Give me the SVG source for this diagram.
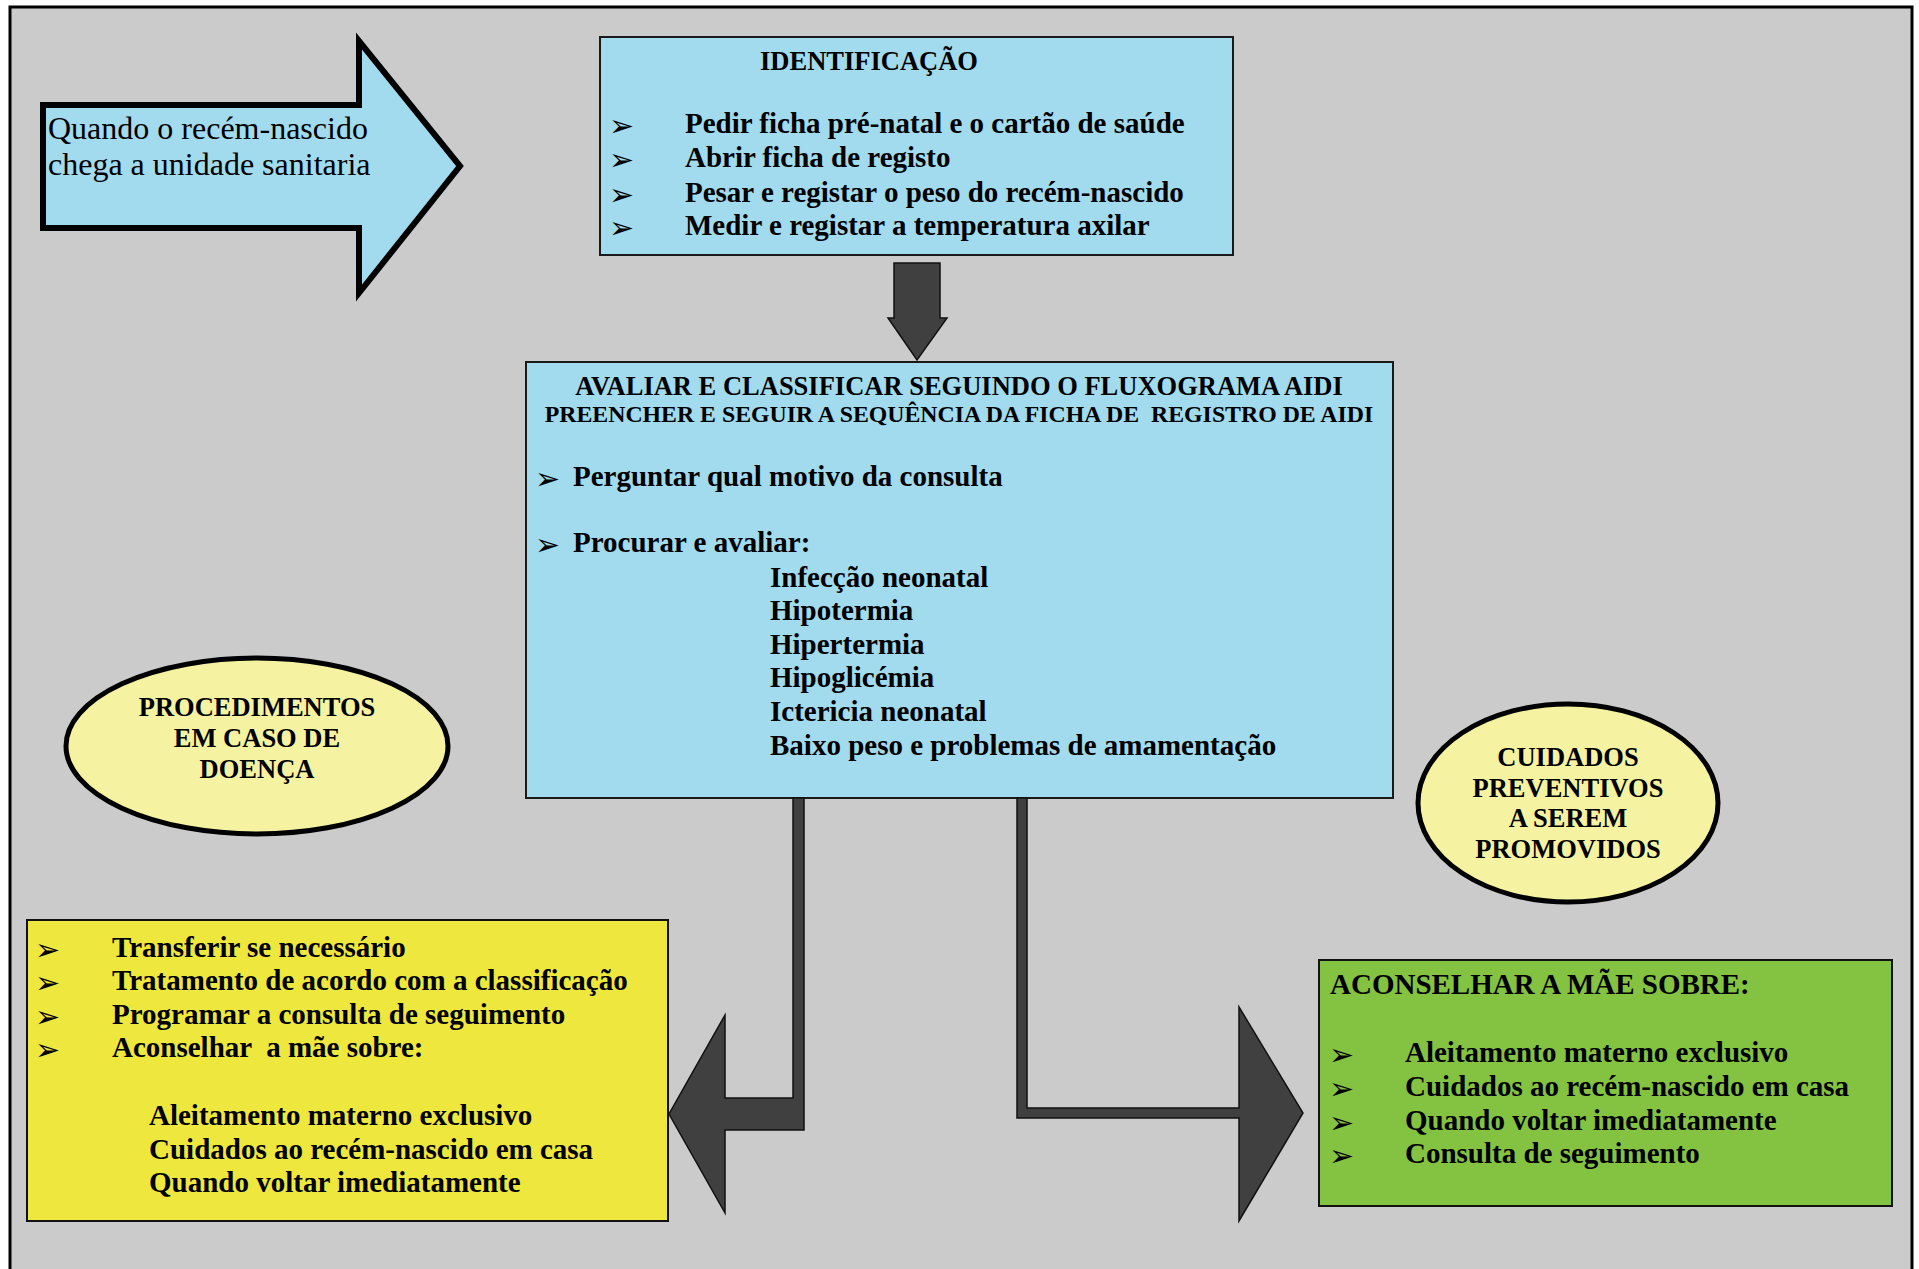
<svg xmlns="http://www.w3.org/2000/svg" width="1919" height="1269" viewBox="0 0 1919 1269">
<style>
.t{font-family:"Liberation Serif","Times New Roman",serif;fill:#000}
.b{font-weight:bold}
.bul{font-family:"DejaVu Sans",sans-serif;font-size:30px;fill:#000}
.blue{fill:#A2DAEE;stroke:#1a1a1a;stroke-width:2}
.conn{fill:#404040;stroke:#111;stroke-width:1.5;stroke-linejoin:miter}
.ell{fill:#F5F3A1;stroke:#000;stroke-width:5}
</style>
<rect x="10" y="7" width="1902" height="1290" fill="#CBCBCB" stroke="#000" stroke-width="3"/>

<g id="start-arrow">
<polygon points="43,105 359,105 359,41 460,166 359,293 359,228 43,228" fill="#A2DAEE" stroke="#000" stroke-width="6"/>
<text class="t" font-size="32" x="48" y="139">Quando o recém-nascido</text>
<text class="t" font-size="32" x="48" y="175">chega a unidade sanitaria</text>
</g>

<g id="identificacao">
<rect class="blue" x="600" y="37" width="633" height="218"/>
<text class="t b" font-size="26.5" x="760" y="70">IDENTIFICAÇÃO</text>
<g class="bul"><text x="609" y="136">➢</text><text x="609" y="170">➢</text><text x="609" y="205">➢</text><text x="609" y="238">➢</text></g>
<g class="t b" font-size="29">
<text x="685" y="133">Pedir ficha pré-natal e o cartão de saúde</text>
<text x="685" y="167">Abrir ficha de registo</text>
<text x="685" y="202">Pesar e registar o peso do recém-nascido</text>
<text x="685" y="235">Medir e registar a temperatura axilar</text>
</g>
</g>

<g id="avaliar">
<rect class="blue" x="526" y="362" width="867" height="436"/>
<text class="t b" font-size="26.5" x="959" y="395" text-anchor="middle">AVALIAR E CLASSIFICAR SEGUINDO O FLUXOGRAMA AIDI</text>
<text class="t b" font-size="23.8" x="959" y="422" text-anchor="middle" xml:space="preserve">PREENCHER E SEGUIR A SEQUÊNCIA DA FICHA DE  REGISTRO DE AIDI</text>
<g class="bul"><text x="535" y="489">➢</text><text x="535" y="555">➢</text></g>
<g class="t b" font-size="29">
<text x="573" y="486">Perguntar qual motivo da consulta</text>
<text x="573" y="552">Procurar e avaliar:</text>
<text x="770" y="587">Infecção neonatal</text>
<text x="770" y="620">Hipotermia</text>
<text x="770" y="654">Hipertermia</text>
<text x="770" y="687">Hipoglicémia</text>
<text x="770" y="721">Ictericia neonatal</text>
<text x="770" y="755">Baixo peso e problemas de amamentação</text>
</g>
</g>

<g id="procedimentos">
<ellipse class="ell" cx="257" cy="746" rx="191" ry="88"/>
<g class="t b" font-size="26.5" text-anchor="middle">
<text x="257" y="716">PROCEDIMENTOS</text>
<text x="257" y="747">EM CASO DE</text>
<text x="257" y="778">DOENÇA</text>
</g>
</g>

<g id="cuidados-preventivos">
<ellipse class="ell" cx="1568" cy="803" rx="150" ry="99"/>
<g class="t b" font-size="26.5" text-anchor="middle">
<text x="1568" y="766">CUIDADOS</text>
<text x="1568" y="797">PREVENTIVOS</text>
<text x="1568" y="827">A SEREM</text>
<text x="1568" y="858">PROMOVIDOS</text>
</g>
</g>

<g id="tratamento">
<rect x="27" y="920" width="641" height="301" fill="#EEE83E" stroke="#111" stroke-width="2"/>
<g class="bul"><text x="35" y="960">➢</text><text x="35" y="993">➢</text><text x="35" y="1027">➢</text><text x="35" y="1060">➢</text></g>
<g class="t b" font-size="29">
<text x="112" y="957">Transferir se necessário</text>
<text x="112" y="990">Tratamento de acordo com a classificação</text>
<text x="112" y="1024">Programar a consulta de seguimento</text>
<text x="112" y="1057" xml:space="preserve">Aconselhar  a mãe sobre:</text>
<text x="149" y="1125">Aleitamento materno exclusivo</text>
<text x="149" y="1159">Cuidados ao recém-nascido em casa</text>
<text x="149" y="1192">Quando voltar imediatamente</text>
</g>
</g>

<g id="aconselhar">
<rect x="1319" y="960" width="573" height="246" fill="#84C341" stroke="#111" stroke-width="2"/>
<text class="t b" font-size="29" x="1330" y="994">ACONSELHAR A MÃE SOBRE:</text>
<g class="bul"><text x="1329" y="1065">➢</text><text x="1329" y="1099">➢</text><text x="1329" y="1133">➢</text><text x="1329" y="1166">➢</text></g>
<g class="t b" font-size="29">
<text x="1405" y="1062">Aleitamento materno exclusivo</text>
<text x="1405" y="1096">Cuidados ao recém-nascido em casa</text>
<text x="1405" y="1130">Quando voltar imediatamente</text>
<text x="1405" y="1163">Consulta de seguimento</text>
</g>
</g>

<g id="connectors">
<polygon class="conn" points="894,263 940,263 940,318 947,318 917,360 888,318 894,318"/>
<polygon class="conn" points="793,798 804,798 804,1130 725,1130 725,1213 669,1114 725,1015 725,1098 793,1098"/>
<polygon class="conn" points="1017,798 1027,798 1027,1108 1239,1108 1239,1007 1303,1113 1239,1221 1239,1118 1017,1118"/>
</g>
</svg>
